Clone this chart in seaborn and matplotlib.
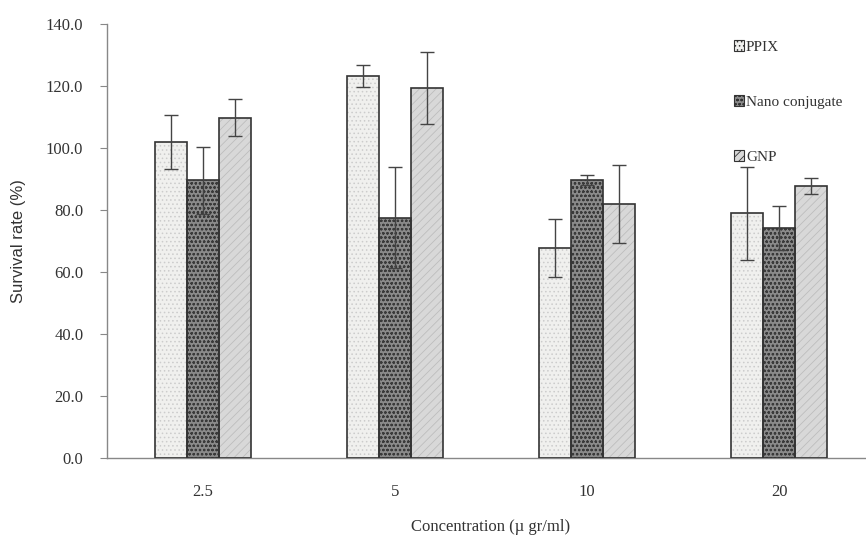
import pandas as pd
import numpy as np
import matplotlib
matplotlib.use("Agg")
import matplotlib.pyplot as plt
import seaborn as sns

concentrations = ["2.5", "5", "10", "20"]
groups = ["PPIX", "Nano conjugate", "GNP"]
ppix = [102.0, 123.3, 67.7, 79.0]
nano = [89.6, 77.6, 89.7, 74.2]
gnp = [109.8, 119.5, 82.0, 87.7]
ppix_err = [8.6, 3.6, 9.4, 15.0]
nano_err = [10.8, 16.4, 1.7, 7.0]
gnp_err = [6.0, 11.6, 12.6, 2.6]

rows = []
for g, vals, errs in [("PPIX", ppix, ppix_err), ("Nano conjugate", nano, nano_err), ("GNP", gnp, gnp_err)]:
    for c, v, e in zip(concentrations, vals, errs):
        rows.append({"Concentration": c, "Group": g, "Survival": v, "Err": e})
df = pd.DataFrame(rows)

sns.set_style("white")
plt.rcParams["font.family"] = ["Liberation Serif", "DejaVu Serif"]
plt.rcParams["hatch.linewidth"] = 0.6

fig = plt.figure(figsize=(8.66, 5.37), dpi=100)
ax = fig.add_axes([0.1235, 0.147, 0.887, 0.808])

sns.barplot(data=df, x="Concentration", y="Survival", hue="Group", order=concentrations,
            hue_order=groups, errorbar=None, width=0.5, ax=ax, legend=False)

styles = {
    "PPIX": dict(facecolor="#f0f0ee", hatch="....", hatch_color="#cccccc"),
    "Nano conjugate": dict(facecolor="#8a8a8a", hatch="oooo", hatch_color="#3a3a3a"),
    "GNP": dict(facecolor="#d8d8d8", hatch="////", hatch_color="#bdbdbd"),
}

bars = ax.patches
for i, g in enumerate(groups):
    sub = df[df["Group"] == g]
    for j, (c, e) in enumerate(zip(sub["Concentration"], sub["Err"])):
        p = bars[i * len(concentrations) + j]
        st = styles[g]
        p.set_facecolor(st["facecolor"])
        p.set_hatch(st["hatch"])
        p.set_edgecolor(st["hatch_color"])
        p.set_linewidth(0)
        ax.add_patch(plt.Rectangle((p.get_x(), 0), p.get_width(), p.get_height(),
                                   fill=False, edgecolor="#333333", linewidth=1.2, zorder=3))
        ax.errorbar(p.get_x() + p.get_width() / 2, p.get_height(), yerr=e, fmt="none",
                    ecolor="#444444", elinewidth=1.0, capsize=5, capthick=1.0, zorder=4)

ax.set_ylim(0, 140)
ax.set_xlim(-0.5, 3.5)
ax.set_yticks(np.arange(0, 141, 20))
ax.set_yticklabels([f"{v:.1f}" for v in np.arange(0, 141, 20)])
ax.tick_params(axis="y", left=True, length=5, color="#888888", labelsize=12, labelcolor="#333333", pad=12)
ax.tick_params(axis="x", bottom=False, labelsize=12, labelcolor="#333333", pad=15)
for s in ["top", "right"]:
    ax.spines[s].set_visible(False)
for s in ["left", "bottom"]:
    ax.spines[s].set_color("#888888")
    ax.spines[s].set_linewidth(1.0)

ax.set_ylabel("Survival rate (%)", family=["Liberation Sans", "DejaVu Sans"], fontsize=12,
              color="#333333", labelpad=14)
ax.set_xlabel("Concentration (µ gr/ml)", fontsize=12, color="#333333", labelpad=14)

handles = [plt.Rectangle((0, 0), 1, 1, facecolor=styles[g]["facecolor"], hatch=styles[g]["hatch"],
                         edgecolor="#333333", linewidth=0.8) for g in groups]
ax.legend(handles, groups, loc="upper left", bbox_to_anchor=(0.798, 0.995), frameon=False,
          handlelength=0.7, handleheight=0.7, handletextpad=0.1, labelspacing=2.7, fontsize=11,
          labelcolor="#333333")

fig.savefig("out.png", dpi=100)
